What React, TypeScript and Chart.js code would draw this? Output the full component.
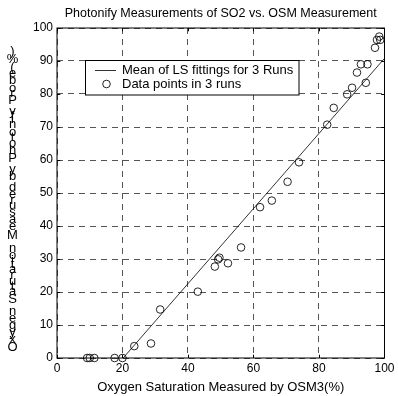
import React, { useEffect, useRef } from "react";
import { Chart, registerables } from "chart.js";

Chart.register(...registerables);

const TITLE = "Photonify Measurements of SO2 vs. OSM Measurement";
const X_LABEL = "Oxygen Saturation Measured by OSM3(%)";
const Y_LABEL = "Oxygen Saturation Measured by Photonify Probe(%)";
const FIT_LABEL = "Mean of LS fittings for 3 Runs";
const POINTS_LABEL = "Data points in 3 runs";

const fitX = [20.2, 100];
const fitY = [0, 90.8];

const osmX = [9.2, 10.0, 11.4, 17.6, 20.0, 23.6, 28.7, 31.5, 43.0, 48.2, 49.2, 49.6, 52.2, 56.2, 62.0, 65.6, 70.4, 73.9, 82.5, 84.5, 88.6, 90.1, 91.6, 92.8, 94.3, 94.8, 97.1, 97.7, 98.4, 98.7];
const photonY = [0, 0, 0, 0, 0, 3.6, 4.4, 14.7, 20.1, 27.7, 29.9, 30.4, 28.7, 33.5, 45.7, 47.7, 53.4, 59.3, 70.7, 75.8, 79.9, 81.9, 86.5, 89.0, 83.4, 89.0, 94.0, 96.4, 97.4, 96.4];

const xRange = [0, 100];
const yRange = [0, 100];
const xStep = 20;
const yStep = 10;

const FONT = "'Liberation Sans', Arial, sans-serif";
const FS = 13;
const TICK_FS = 12;
const TITLE_FS = 12.5;

const framePlugin = {
  id: "matlabFrame",
  afterDraw(chart: any) {
    const { ctx, chartArea: a, scales } = chart;
    const xs = scales.x;
    const ys = scales.y;
    ctx.save();
    ctx.strokeStyle = "#000";
    ctx.lineWidth = 1;
    ctx.setLineDash([]);
    ctx.strokeRect(a.left, a.top, a.right - a.left, a.bottom - a.top);
    const tl = 3.3;
    ctx.beginPath();
    xs.ticks.forEach((t: any) => {
      const px = Math.round(xs.getPixelForValue(t.value)) + 0.5;
      ctx.moveTo(px, a.bottom);
      ctx.lineTo(px, a.bottom - tl);
      ctx.moveTo(px, a.top);
      ctx.lineTo(px, a.top + tl);
    });
    ys.ticks.forEach((t: any) => {
      const py = Math.round(ys.getPixelForValue(t.value)) + 0.5;
      ctx.moveTo(a.left, py);
      ctx.lineTo(a.left + tl, py);
      ctx.moveTo(a.right, py);
      ctx.lineTo(a.right - tl, py);
    });
    ctx.stroke();

    // stacked y label (glyphs upright, stacked bottom to top)
    ctx.font = `${FS}px ${FONT}`;
    ctx.fillStyle = "#000";
    ctx.textAlign = "center";
    ctx.textBaseline = "middle";
    const y0 = 352.5;
    const cx = 12.5;
    let prefix = 0;
    for (const ch of Y_LABEL) {
      const w = ctx.measureText(ch).width;
      if (ch !== " ") ctx.fillText(ch, cx, y0 - (prefix + w / 2));
      prefix += w;
    }

    // legend
    const ds = chart.data.datasets;
    const lx = 85.5, ly = 60.5, lw = 213.5, lh = 34.5;
    ctx.fillStyle = "#fff";
    ctx.fillRect(lx, ly, lw, lh);
    ctx.strokeStyle = "#000";
    ctx.lineWidth = 1;
    ctx.strokeRect(lx, ly, lw, lh);
    const row1 = 70, row2 = 84;
    ctx.strokeStyle = ds[0].borderColor;
    ctx.lineWidth = ds[0].borderWidth;
    ctx.beginPath();
    ctx.moveTo(95, row1 + 0.5);
    ctx.lineTo(116, row1 + 0.5);
    ctx.stroke();
    ctx.strokeStyle = ds[1].borderColor;
    ctx.lineWidth = ds[1].borderWidth;
    ctx.beginPath();
    ctx.arc(106.5, row2, ds[1].pointRadius, 0, Math.PI * 2);
    ctx.stroke();
    ctx.fillStyle = "#000";
    ctx.textAlign = "left";
    ctx.fillText(ds[0].label, 122, row1);
    ctx.fillText(ds[1].label, 122, row2);
    ctx.restore();
  },
};

export default function App() {
  const ref = useRef<HTMLCanvasElement>(null);
  useEffect(() => {
    if (!ref.current) return;
    const chart = new Chart(ref.current, {
      type: "scatter",
      data: {
        datasets: [
          {
            label: FIT_LABEL,
            data: fitX.map((x, i) => ({ x, y: fitY[i] })),
            showLine: true,
            borderColor: "rgba(0,0,0,0.8)",
            borderWidth: 1,
            pointRadius: 0,
            fill: false,
          },
          {
            label: POINTS_LABEL,
            data: osmX.map((x, i) => ({ x, y: photonY[i] })),
            showLine: false,
            borderColor: "rgba(0,0,0,0.85)",
            backgroundColor: "rgba(0,0,0,0)",
            borderWidth: 1,
            pointRadius: 3.8,
            pointStyle: "circle",
            clip: false as any,
          },
        ],
      },
      options: {
        animation: false,
        responsive: true,
        maintainAspectRatio: false,
        layout: { padding: { left: 0, right: 11, top: 0, bottom: 0 } },
        plugins: {
          legend: { display: false },
          tooltip: { enabled: false },
          title: {
            display: true,
            text: TITLE,
            fullSize: false,
            color: "#000",
            font: { family: FONT, size: TITLE_FS, weight: "normal" },
            padding: { top: 6.5, bottom: 6.5 },
          },
        },
        scales: {
          x: {
            type: "linear",
            min: xRange[0],
            max: xRange[1],
            ticks: { stepSize: xStep, color: "#000", font: { family: FONT, size: TICK_FS }, padding: 3.5, maxRotation: 0 },
            grid: { color: "#555", lineWidth: 1, drawTicks: false },
            border: { display: false, dash: [6, 5] },
            title: {
              display: true,
              text: X_LABEL,
              color: "#000",
              font: { family: FONT, size: FS },
              padding: { top: 0, bottom: 1.2 },
            },
            afterFit: (s: any) => {
              s.height = 38;
            },
          },
          y: {
            type: "linear",
            min: yRange[0],
            max: yRange[1],
            ticks: { stepSize: yStep, color: "#000", font: { family: FONT, size: TICK_FS }, padding: 4 },
            grid: { color: "#555", lineWidth: 1, drawTicks: false },
            border: { display: false, dash: [6, 5] },
            afterFit: (s: any) => {
              s.width = 57;
            },
          },
        },
      },
      plugins: [framePlugin],
    });
    return () => chart.destroy();
  }, []);
  return (
    <div style={{ position: "fixed", left: 0, top: 0, width: 398, height: 396, background: "#fff" }}>
      <canvas ref={ref} />
    </div>
  );
}
